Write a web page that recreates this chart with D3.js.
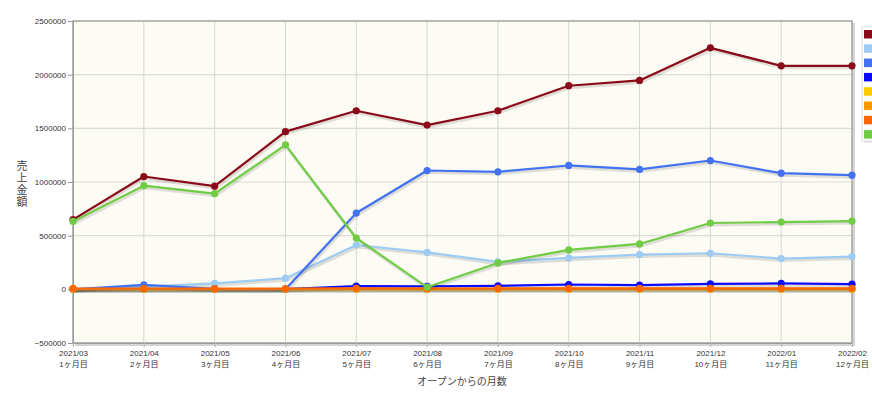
<!DOCTYPE html>
<html><head><meta charset="utf-8">
<script src="https://cdn.jsdelivr.net/npm/d3@7"></script>
<style>
body{margin:0;background:#fff;}
text{font-family:"Liberation Sans Narrow","Liberation Sans","Noto Sans CJK JP",sans-serif;}
</style></head><body>
<svg id="c" width="872" height="393"></svg>
<script>
const months = ["2021/03","2021/04","2021/05","2021/06","2021/07","2021/08","2021/09","2021/10","2021/11","2021/12","2022/01","2022/02"];
const monthNo = ["1ヶ月目","2ヶ月目","3ヶ月目","4ヶ月目","5ヶ月目","6ヶ月目","7ヶ月目","8ヶ月目","9ヶ月目","10ヶ月目","11ヶ月目","12ヶ月目"];
const yTicks = [-500000,0,500000,1000000,1500000,2000000,2500000];
const colors = ["#8b0a1a","#9dcbf2","#4271f2","#0a0aff","#ffcc00","#ff9900","#ff6600","#70cc44"];
const s1 = [649000,1051000,961000,1469000,1664000,1530000,1664000,1897000,1946000,2250000,2082000,2082000];
const s2 = [2000,25000,55000,104000,413000,345000,255000,293000,324000,336000,287000,305000];
const s3 = [0,42000,4000,0,711000,1107000,1095000,1154000,1117000,1200000,1082000,1064000];
const s4 = [0,3000,2000,2000,30000,28000,32000,45000,39000,51000,55000,48000];
const s5 = [0,0,0,0,0,0,0,0,0,0,0,0];
const s6 = [3000,3000,3000,3000,4000,4000,4000,4000,4000,4000,4000,4000];
const s7 = [8000,8000,7000,7000,9000,8000,8000,9000,9000,9000,9000,9000];
const s8 = [633000,966000,891000,1346000,478000,20000,246000,367000,423000,618000,627000,636000];
const seriesVals = [s1,s2,s3,s4,s5,s6,s7,s8];

const svg = d3.select("#c");
const L=73, R=852, T=21, B=343;
const x = d3.scalePoint().domain(months).range([L,R]);
const y = d3.scaleLinear().domain([-500000,2500000]).range([B,T]);

// plot background + shadow
svg.append("rect").attr("x",L+2).attr("y",T+2).attr("width",R-L+1).attr("height",B-T+1).attr("fill","#d4d4d4");
svg.append("rect").attr("x",L).attr("y",T).attr("width",R-L).attr("height",B-T).attr("fill","#fdfcf4");

// grid
svg.append("g").selectAll("line").data(yTicks).join("line")
  .attr("x1",L).attr("x2",R).attr("y1",d=>y(d)).attr("y2",d=>y(d))
  .attr("stroke","#dcdcd6").attr("stroke-width",1.2);
svg.append("g").selectAll("line").data(months).join("line")
  .attr("x1",d=>x(d)).attr("x2",d=>x(d)).attr("y1",T).attr("y2",B+4)
  .attr("stroke","#d6d6d2").attr("stroke-width",1);

// frame
svg.append("rect").attr("x",L).attr("y",T).attr("width",R-L).attr("height",B-T)
  .attr("fill","none").attr("stroke","#a8a8a8").attr("stroke-width",1.5);

// y axis
const ya = svg.append("g").attr("transform",`translate(${L},0)`)
  .call(d3.axisLeft(y).tickValues(yTicks).tickSize(5).tickFormat(d3.format("d")));
ya.select(".domain").attr("stroke","#999");
ya.selectAll(".tick line").attr("stroke","#999");
ya.selectAll("text").attr("font-size",8).attr("fill","#333").attr("x",-7);

// x axis
const xa = svg.append("g").attr("transform",`translate(0,${B})`)
  .call(d3.axisBottom(x).tickSize(4).tickFormat(""));
xa.select(".domain").attr("stroke","#999");
xa.selectAll(".tick line").attr("stroke","#bbb");
xa.selectAll(".tick").append("text").attr("fill","#333").attr("font-size",8).attr("text-anchor","middle")
  .each(function(d,i){
    const t=d3.select(this);
    t.append("tspan").attr("x",0).attr("y",13).text(months[i]);
    t.append("tspan").attr("x",0).attr("y",24).text(monthNo[i]);
  });

// axis titles
svg.append("text").attr("x",462).attr("y",385).attr("text-anchor","middle")
  .attr("font-size",10).attr("fill","#444").attr("font-family","Noto Sans CJK JP").text("オープンからの月数");
const yt = svg.append("text").attr("x",22).attr("y",170).attr("text-anchor","middle")
  .attr("font-size",11).attr("fill","#444").attr("font-family","Noto Sans CJK JP");
"売上金額".split("").forEach((c,i)=>yt.append("tspan").attr("x",22).attr("y",170+i*12).text(c));

// lines
const line = d3.line().x((d,i)=>x(months[i])).y(d=>y(d));
const g = svg.append("g");
seriesVals.forEach((vals,k)=>{
  g.append("path").attr("d",line(vals)).attr("fill","none")
    .attr("stroke","rgba(0,0,0,0.12)").attr("stroke-width",3).attr("transform","translate(1,2)");
  g.append("path").attr("d",line(vals)).attr("fill","none")
    .attr("stroke",colors[k]).attr("stroke-width",2.2).attr("stroke-linejoin","round");
  g.selectAll(null).data(vals).join("circle")
    .attr("cx",(d,i)=>x(months[i])).attr("cy",d=>y(d)).attr("r",3.6).attr("fill",colors[k]);
});

// legend (clipped at the right edge)
svg.append("rect").attr("x",864).attr("y",29).attr("width",40).attr("height",114).attr("fill","#e8e8e8");
svg.append("rect").attr("x",862).attr("y",27).attr("width",40).attr("height",114)
  .attr("fill","#fff").attr("stroke","#ddd");
svg.append("g").selectAll("rect").data(colors).join("rect")
  .attr("x",864).attr("y",(d,i)=>30+i*14.3).attr("width",9).attr("height",8.5).attr("fill",d=>d);
</script></body></html>
